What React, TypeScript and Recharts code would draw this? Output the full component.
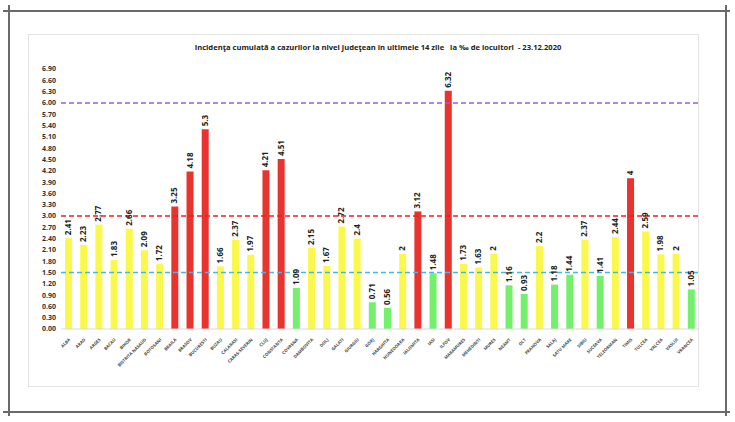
import React from 'react';
import { BarChart, Bar, XAxis, YAxis, Cell, ReferenceLine, LabelList } from 'recharts';

const counties = [
  'ALBA', 'ARAD', 'ARGES', 'BACAU', 'BIHOR', 'BISTRITA NASAUD', 'BOTOSANI', 'BRAILA', 'BRASOV', 'BUCURESTI',
  'BUZAU', 'CALARASI', 'CARAS-SEVERIN', 'CLUJ', 'CONSTANTA', 'COVASNA', 'DAMBOVITA', 'DOLJ', 'GALATI', 'GIURGIU',
  'GORJ', 'HARGHITA', 'HUNEDOARA', 'IALOMITA', 'IASI', 'ILFOV', 'MARAMURES', 'MEHEDINTI', 'MURES', 'NEAMT',
  'OLT', 'PRAHOVA', 'SALAJ', 'SATU MARE', 'SIBIU', 'SUCEAVA', 'TELEORMAN', 'TIMIS', 'TULCEA', 'VALCEA',
  'VASLUI', 'VRANCEA',
];

const incidence = [
  2.41, 2.23, 2.77, 1.83, 2.66, 2.09, 1.72, 3.25, 4.18, 5.3,
  1.66, 2.37, 1.97, 4.21, 4.51, 1.09, 2.15, 1.67, 2.72, 2.4,
  0.71, 0.56, 2, 3.12, 1.48, 6.32, 1.73, 1.63, 2, 1.16,
  0.93, 2.2, 1.18, 1.44, 2.37, 1.41, 2.44, 4, 2.59, 1.98,
  2, 1.05,
];

const yTicks = [
  0, 0.3, 0.6, 0.9, 1.2, 1.5, 1.8, 2.1, 2.4, 2.7, 3.0, 3.3, 3.6, 3.9, 4.2, 4.5,
  4.8, 5.1, 5.4, 5.7, 6.0, 6.3, 6.6, 6.9,
];

const thresholds = { low: 1.5, high: 3, alert: 6 };

const data = counties.map((name, i) => ({ name, value: incidence[i] }));

const barColor = (v: number) =>
  v > thresholds.high ? '#e9332f' : v < thresholds.low ? '#74f06c' : '#fbf84c';

const XTick = (props: any) => {
  const { x, y, payload } = props;
  return (
    <g transform={`translate(${x + 2},${y + 3})`}>
      <text
        x={0}
        y={0}
        textAnchor="end"
        transform="rotate(-45)"
        fontSize={4.3}
        fontWeight={700}
        fill="#444"
        fontFamily="Open Sans, Liberation Sans, sans-serif"
      >
        {payload.value}
      </text>
    </g>
  );
};

const ValueLabel = (props: any) => {
  const { x, y, width, value } = props;
  const cx = x + width / 2 + 2.5;
  const cy = y - 3;
  return (
    <text
      x={cx}
      y={cy}
      transform={`rotate(-90, ${cx}, ${cy})`}
      textAnchor="start"
      fontSize={8}
      fontWeight={700}
      fill="#222"
      fontFamily="Open Sans, Liberation Sans, sans-serif"
    >
      {value}
    </text>
  );
};

const line = (style: React.CSSProperties): React.CSSProperties => ({
  position: 'absolute',
  background: '#6a6a6a',
  ...style,
});

export default function App() {
  return (
    <div style={{ position: 'absolute', left: 0, top: 0, width: 735, height: 422, background: '#fff' }}>
      <div style={line({ left: 3, top: 10, width: 727, height: 1.5 })} />
      <div style={line({ left: 3, top: 411, width: 727, height: 1.5 })} />
      <div style={line({ left: 8, top: 5, width: 1.5, height: 411 })} />
      <div style={line({ left: 725, top: 5, width: 1.5, height: 411 })} />
      <div
        style={{
          position: 'absolute',
          left: 28,
          top: 34,
          width: 669,
          height: 351,
          border: '1px solid #e3e3e3',
        }}
      />
      <div
        style={{
          position: 'absolute',
          left: 0,
          top: 42,
          width: 756,
          textAlign: 'center',
          fontSize: 7.6,
          fontWeight: 700,
          color: '#222',
          fontFamily: 'Open Sans, Liberation Sans, sans-serif',
          whiteSpace: 'pre',
        }}
      >
        {'Incidenţa cumulată a cazurilor la nivel judeţean în ultimele 14 zile   la ‰ de locuitori  - 23.12.2020'}
      </div>
      <div style={{ position: 'absolute', left: 0, top: 0 }}>
        <BarChart
          width={735}
          height={422}
          data={data}
          margin={{ top: 69, right: 36, bottom: 43, left: 0 }}
          barCategoryGap={0}
        >
          <XAxis
            dataKey="name"
            interval={0}
            tick={<XTick />}
            tickLine={false}
            axisLine={{ stroke: '#d9d9d9' }}
            height={50}
          />
          <YAxis
            width={61}
            domain={[0, 6.9]}
            ticks={yTicks}
            interval={0}
            tickFormatter={(v: number) => v.toFixed(2)}
            tick={{ fontSize: 7, fontWeight: 700, fill: '#333', fontFamily: 'Open Sans, Liberation Sans, sans-serif' }}
            tickLine={false}
            tickSize={0}
            tickMargin={5}
            axisLine={false}
          />
          <ReferenceLine y={thresholds.alert} stroke="#9b5fd0" strokeWidth={1.5} strokeDasharray="5 3" ifOverflow="extendDomain" />
          <ReferenceLine y={thresholds.high} stroke="#f02020" strokeWidth={1.5} strokeDasharray="5 3" />
          <ReferenceLine y={thresholds.low} stroke="#3cbcea" strokeWidth={1.5} strokeDasharray="5 3" />
          <Bar dataKey="value" barSize={7} isAnimationActive={false}>
            {data.map((d) => (
              <Cell key={d.name} fill={barColor(d.value)} />
            ))}
            <LabelList dataKey="value" content={<ValueLabel />} />
          </Bar>
        </BarChart>
      </div>
    </div>
  );
}
